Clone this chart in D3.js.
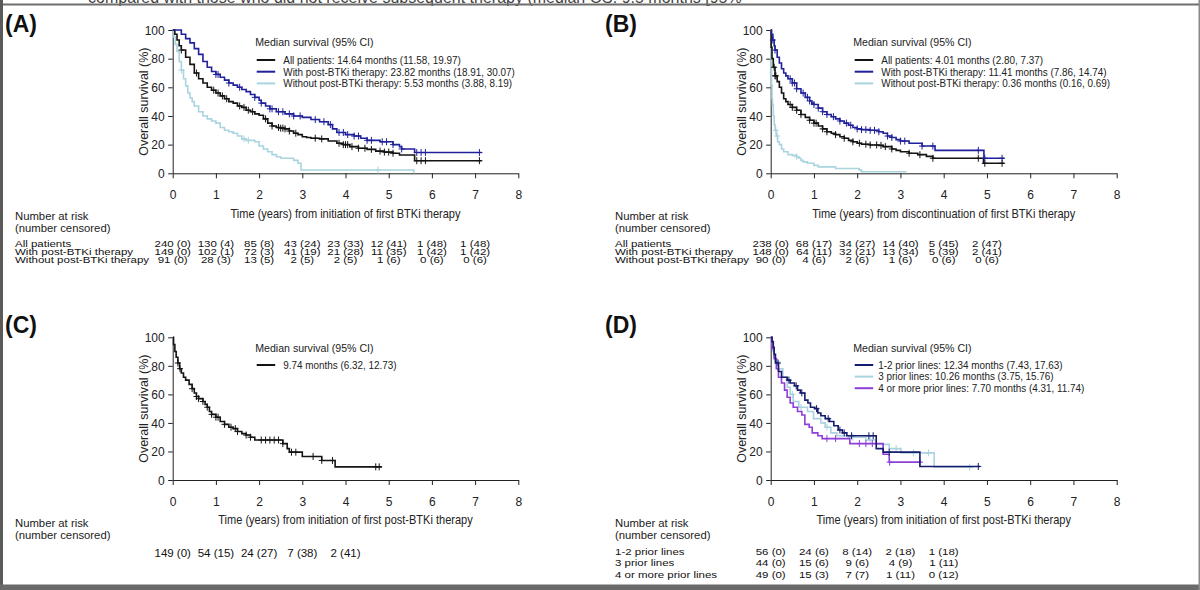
<!DOCTYPE html>
<html><head><meta charset="utf-8">
<script src="https://cdn.jsdelivr.net/npm/d3@7"></script>
<style>
body{margin:0;background:#fff;overflow:hidden}
text{font-family:"Liberation Sans",Arial,Helvetica,sans-serif}
</style>
</head><body>
<svg id="c" width="1200" height="590"></svg>
<script>
// ---------- shared ticks ----------
const xTicks = [0,1,2,3,4,5,6,7,8];
const yTicks = [0,20,40,60,80,100];

// ---------- Panel A: from initiation of first BTKi ----------
const A_all = [[0,100],[0.05,97],[0.1,93],[0.15,89],[0.2,86],[0.3,81],[0.4,76],[0.5,70],[0.6,66],[0.7,63],[0.8,60],[0.9,58],[1.0,56],[1.1,54],[1.2,52],[1.3,50],[1.4,49],[1.5,47],[1.6,46],[1.7,44],[1.8,43],[1.9,41.5],[2.0,40.5],[2.1,38],[2.2,35],[2.3,33],[2.4,32],[2.5,31.5],[2.6,31],[2.7,29.5],[2.8,28],[2.9,27],[3.0,25.5],[3.1,25],[3.2,24.5],[3.4,24],[3.6,22.5],[3.8,21],[3.95,20],[4.1,18.6],[4.3,17.5],[4.5,16.7],[4.7,15.5],[4.9,14.8],[5.1,14],[5.25,12.8],[5.6,8.8],[7.15,8.8]];
const A_all_cens = [0.2,0.55,0.95,1.05,1.15,1.25,1.55,1.65,1.75,1.85,2.15,2.3,2.45,2.5,2.55,2.6,2.7,2.85,3.3,3.45,3.85,3.95,4.0,4.05,4.15,4.3,4.45,4.6,4.8,4.9,5.0,5.1,5.65,5.75,5.85,7.1];
const A_with = [[0,100],[0.15,100],[0.2,97],[0.3,94],[0.4,91],[0.5,87],[0.6,83],[0.7,78],[0.8,74],[0.9,71],[1.0,69],[1.1,67],[1.2,65],[1.3,63],[1.4,61.5],[1.5,60],[1.6,58.5],[1.7,57],[1.8,55],[1.9,53],[2.0,51],[2.05,49],[2.15,47],[2.25,45],[2.4,43],[2.6,41.5],[2.8,40],[3.0,39],[3.2,37.5],[3.4,36],[3.6,34],[3.7,31],[3.8,28.5],[4.0,27],[4.2,26],[4.35,24.5],[4.5,23],[4.8,22],[5.1,20],[5.25,18.5],[5.3,17],[5.6,14.5],[7.15,14.5]];
const A_with_cens = [1.0,1.05,1.3,1.55,1.9,2.05,2.25,2.3,2.45,2.55,2.7,2.8,2.95,3.3,3.5,3.65,3.85,3.95,4.05,4.2,4.3,4.5,4.6,4.85,4.95,5.1,5.3,5.65,5.75,5.85,7.1];
const A_without = [[0,100],[0.03,95],[0.06,90],[0.1,85],[0.15,78],[0.2,72],[0.25,66],[0.3,61],[0.35,56],[0.4,52.5],[0.45,50],[0.5,47],[0.6,43],[0.7,40],[0.8,38],[0.9,36.5],[1.0,35],[1.1,32],[1.2,30],[1.3,29],[1.4,28],[1.5,26],[1.6,24],[1.7,23],[1.9,22],[2.0,19],[2.1,17],[2.2,15],[2.3,13],[2.4,11.5],[2.5,10.5],[2.8,9],[2.9,7],[2.97,2.3],[5.58,0]];
const A_without_cens = [0.2,1.65,1.75,4.75];
const A_legend = ["All patients: 14.64 months (11.58, 19.97)","With post-BTKi therapy: 23.82 months (18.91, 30.07)","Without post-BTKi therapy: 5.53 months (3.88, 8.19)"];
const A_rowLabels = ["All patients","With post-BTKi therapy","Without post-BTKi therapy"];
const A_risk_all = ["240 (0)","130 (4)","85 (8)","43 (24)","23 (33)","12 (41)","1 (48)","1 (48)"];
const A_risk_with = ["149 (0)","102 (1)","72 (3)","41 (19)","21 (28)","11 (35)","1 (42)","1 (42)"];
const A_risk_without = ["91 (0)","28 (3)","13 (5)","2 (5)","2 (5)","1 (6)","0 (6)","0 (6)"];
const A_xTitle = "Time (years) from initiation of first BTKi therapy";

// ---------- Panel B: from discontinuation of first BTKi ----------
const B_all = [[0,100],[0.01,88],[0.03,80],[0.06,74],[0.1,68],[0.15,64],[0.2,60],[0.25,56],[0.3,52],[0.35,50],[0.4,48],[0.5,46],[0.6,44],[0.7,41],[0.8,39],[0.9,37],[1.0,35],[1.1,33],[1.2,31],[1.3,29],[1.4,28],[1.5,27],[1.6,25.5],[1.7,24.5],[1.8,23],[1.9,22],[2.0,21],[2.1,20.3],[2.3,19.8],[2.5,19.5],[2.6,18.6],[2.8,17],[2.9,16],[3.0,15],[3.2,14],[3.4,13],[3.6,11.8],[3.75,10.5],[4.92,7],[5.4,7]];
const B_all_cens = [0.08,0.1,0.12,0.45,0.5,0.6,0.7,0.9,1.0,1.05,1.2,1.3,1.5,1.7,1.9,2.05,2.2,2.3,2.45,2.55,2.65,2.8,3.2,3.45,3.75,4.8,4.95,5.35];
const B_with = [[0,100],[0.02,97],[0.05,93],[0.08,89],[0.1,86],[0.15,81],[0.2,77],[0.25,73],[0.3,70],[0.35,68],[0.4,66],[0.5,63],[0.6,59],[0.7,56],[0.8,53],[0.9,50.5],[0.95,49],[1.0,48],[1.1,45.5],[1.2,43],[1.3,41],[1.4,39.5],[1.5,38],[1.6,36.5],[1.7,35],[1.8,33.5],[1.9,32],[2.0,31],[2.1,30.5],[2.3,30],[2.5,29],[2.6,28],[2.7,26],[2.8,25],[2.9,23.5],[3.0,22.5],[3.2,21],[3.5,19],[3.8,16],[4.93,10.5],[5.4,10.5]];
const B_with_cens = [0.05,0.1,0.45,0.5,0.55,0.6,0.75,0.85,0.9,1.0,1.1,1.2,1.3,1.45,1.6,1.75,1.85,2.0,2.1,2.2,2.3,2.4,2.5,2.7,2.8,3.0,3.1,3.5,3.75,4.8,4.95,5.35];
const B_without = [[0,100],[0.01,80],[0.02,62],[0.03,52],[0.04,48],[0.06,40],[0.08,34],[0.1,30],[0.13,26],[0.16,22],[0.2,20],[0.25,17],[0.3,15],[0.4,13],[0.5,12.5],[0.6,11.5],[0.65,10.5],[0.7,9],[0.75,8],[0.85,7],[1.0,5.5],[1.1,4.5],[1.5,3.4],[2.05,2.2],[2.1,1.1],[3.14,1.1]];
const B_without_cens = [0.12,0.15,0.6];
const B_legend = ["All patients: 4.01 months (2.80, 7.37)","With post-BTKi therapy: 11.41 months (7.86, 14.74)","Without post-BTKi therapy: 0.36 months (0.16, 0.69)"];
const B_risk_all = ["238 (0)","68 (17)","34 (27)","14 (40)","5 (45)","2 (47)"];
const B_risk_with = ["148 (0)","64 (11)","32 (21)","13 (34)","5 (39)","2 (41)"];
const B_risk_without = ["90 (0)","4 (6)","2 (6)","1 (6)","0 (6)","0 (6)"];
const B_xTitle = "Time (years) from discontinuation of first BTKi therapy";

// ---------- Panel C: from initiation of first post-BTKi ----------
const C_all = [[0,100],[0.02,95],[0.05,90],[0.08,86],[0.12,82],[0.16,78],[0.2,75],[0.25,72],[0.3,70],[0.38,67],[0.45,64],[0.5,61],[0.55,58.5],[0.6,57],[0.7,55],[0.75,53],[0.8,51],[0.85,48],[0.9,46],[1.0,44],[1.1,41],[1.2,39],[1.3,37],[1.4,36],[1.5,34],[1.6,32.5],[1.7,31.5],[1.8,30],[1.9,28],[2.55,25.5],[2.65,22],[2.7,19.5],[3.0,16.5],[3.45,13.7],[3.76,9.2],[4.84,9.2]];
const C_all_cens = [0.12,0.17,0.45,0.55,0.6,0.7,0.8,0.9,1.0,1.05,1.2,1.35,1.45,1.5,1.7,1.8,2.05,2.15,2.25,2.35,2.45,2.55,2.75,2.85,3.25,3.45,3.7,4.7,4.78];
const C_legend = ["9.74 months (6.32, 12.73)"];
const C_risk = ["149 (0)","54 (15)","24 (27)","7 (38)","2 (41)"];
const C_xTitle = "Time (years) from initiation of first post-BTKi therapy";

// ---------- Panel D: by prior lines ----------
const D_12 = [[0,100],[0.03,97],[0.06,93],[0.08,88],[0.11,82],[0.18,76],[0.25,72],[0.38,70],[0.45,68],[0.55,66],[0.62,63],[0.69,61],[0.79,56],[0.86,54],[0.92,51],[1.02,50],[1.09,47],[1.16,45],[1.26,43],[1.36,41],[1.46,38],[1.56,35],[1.66,33],[1.76,31],[2.44,22],[2.6,19.5],[3.45,9.5],[4.84,9.5]];
const D_12_cens = [0.17,0.42,0.59,0.72,1.06,1.33,1.6,1.7,1.87,2.27,2.37,2.74,4.8];
const D_3 = [[0,100],[0.03,95],[0.05,90],[0.08,86],[0.11,83],[0.18,78],[0.28,72],[0.38,65],[0.45,60],[0.52,55],[0.65,51],[0.85,48],[0.99,43],[1.16,40],[1.26,37],[1.39,33],[1.53,31],[1.8,30],[2.2,28],[2.44,25],[2.74,22],[3.01,19],[3.78,9],[4.68,9]];
const D_3_cens = [0.15,0.5,0.7,1.3,1.9,2.3,2.9,3.3,3.65,4.6];
const D_4 = [[0,100],[0.03,92],[0.08,85],[0.13,78],[0.18,72],[0.25,68],[0.32,63],[0.38,58],[0.45,54],[0.52,51],[0.62,48],[0.72,45.5],[0.79,39],[0.89,37],[0.96,33],[1.09,31],[1.19,29],[1.83,25.5],[2.6,18],[2.74,12.5],[3.48,12.5]];
const D_4_cens = [1.3,1.5,2.05,2.2,2.35,2.75,3.45];
const D_legend = ["1-2 prior lines: 12.34 months (7.43, 17.63)","3 prior lines: 10.26 months (3.75, 15.76)","4 or more prior lines: 7.70 months (4.31, 11.74)"];
const D_rowLabels = ["1-2 prior lines","3 prior lines","4 or more prior lines"];
const D_risk_12 = ["56 (0)","24 (6)","8 (14)","2 (18)","1 (18)"];
const D_risk_3 = ["44 (0)","15 (6)","9 (6)","4 (9)","1 (11)"];
const D_risk_4 = ["49 (0)","15 (3)","7 (7)","1 (11)","0 (12)"];
const D_xTitle = C_xTitle;

const topNote = "compared with those who did not receive subsequent therapy (median OS: 9.5 months [95%";

// ---------- colours ----------
const cBlack = "#141414", cBlue = "#20209a", cLight = "#a9d4e0";
const cNavy = "#161c6c", cLight2 = "#abd2e0", cPurple = "#8e3fd8";

const svg = d3.select("#c");
svg.append("rect").attr("width",1200).attr("height",590).attr("fill","#fff");

function sAt(steps, t){
  let s = steps[0][1];
  for (const p of steps){ if (p[0] <= t) s = p[1]; else break; }
  return s;
}

function panel(p){
  const x = d3.scaleLinear().domain([0,8]).range([p.x0, p.x1]);
  const y = d3.scaleLinear().domain([0,100]).range([p.yb, p.yt]);
  const g = svg.append("g");

  // panel letter
  g.append("text").attr("x", p.lx).attr("y", p.ly).attr("font-size", 23).attr("font-weight","bold")
    .attr("fill","#111").text(p.letter);

  // axes
  const xa = g.append("g").attr("transform",`translate(0,${p.yb})`)
    .call(d3.axisBottom(x).tickValues(xTicks).tickSize(5).tickSizeOuter(0).tickFormat(d3.format("d")));
  xa.selectAll("text").attr("y", 21.5).attr("dy","0.35em").attr("font-size",12).attr("fill","#222")
    .style("font-family",'"Liberation Sans",Arial,sans-serif');
  const ya = g.append("g").attr("transform",`translate(${p.x0},0)`)
    .call(d3.axisLeft(y).tickValues(yTicks).tickSize(4.5).tickSizeOuter(0));
  ya.selectAll("text").attr("x", -8).attr("dy","0.35em").attr("font-size",12).attr("fill","#222")
    .style("font-family",'"Liberation Sans",Arial,sans-serif');
  g.selectAll(".domain, .tick line").attr("stroke","#222").attr("stroke-width",1);

  // axis titles
  g.append("text").attr("transform",`translate(${p.x0-29},${(p.yt+p.yb)/2}) rotate(-90)`)
    .attr("text-anchor","middle").attr("dy","0.35em").attr("font-size",12.5).attr("fill","#222")
    .text("Overall survival (%)");
  g.append("text").attr("transform",`translate(${(p.x0+p.x1)/2},${p.yb+40}) scale(0.92,1)`).attr("dy","0.35em")
    .attr("text-anchor","middle").attr("font-size",12).attr("fill","#222").text(p.xTitle);

  // curves
  const line = d3.line().x(d=>x(d[0])).y(d=>y(d[1])).curve(d3.curveStepAfter);
  p.series.forEach(s=>{
    g.append("path").datum(s.steps).attr("d",line).attr("fill","none")
      .attr("stroke",s.color).attr("stroke-width",1.6);
    g.append("g").selectAll("path").data(s.cens).join("path")
      .attr("d", t=>{const cx=x(t), cy=y(sAt(s.steps,t)); return `M${cx-3},${cy}H${cx+3}M${cx},${cy-3.5}V${cy+3.5}`;})
      .attr("stroke",s.color).attr("stroke-width",1).attr("fill","none");
  });

  // legend
  g.append("text").attr("x",p.x0+82.5).attr("y",p.yt+p.legHead).attr("dy","0.35em")
    .attr("font-size",10.6).attr("fill","#222").text("Median survival (95% CI)");
  p.legend.forEach((lab,i)=>{
    const yy = p.yt + p.legRow0 + i*p.legStep;
    g.append("line").attr("x1",p.x0+84).attr("x2",p.x0+102.5).attr("y1",yy).attr("y2",yy)
      .attr("stroke",p.legColors[i]).attr("stroke-width",2);
    g.append("text").attr("transform",`translate(${p.x0+p.legTextOff},${yy}) scale(0.9,1)`).attr("dy","0.35em")
      .attr("font-size",11).attr("fill","#222").text(lab);
  });

  // risk table
  g.append("text").attr("x",p.tx).attr("y",p.yb+43).attr("dy","0.35em").attr("font-size",11.3)
    .attr("fill","#222").text("Number at risk");
  g.append("text").attr("x",p.tx).attr("y",p.yb+55).attr("dy","0.35em").attr("font-size",11.3)
    .attr("fill","#222").text("(number censored)");
  p.risk.forEach((r,i)=>{
    const yy = p.riskY0 + i*p.riskStep;
    if (r.label) g.append("text").attr("transform",`translate(${p.tx},${yy}) scale(1,${p.riskSy})`)
      .attr("dy","0.35em").attr("font-size",11.5).attr("fill","#111").text(r.label);
    g.append("g").selectAll("text").data(r.values).join("text")
      .attr("transform",(d,j)=>`translate(${x(j)},${yy}) scale(1,${p.riskSy})`).attr("dy","0.35em")
      .attr("text-anchor","middle").attr("font-size",11.5).attr("fill","#111").text(d=>d);
  });
}

panel({letter:"(A)", lx:5, ly:32, x0:172.7, x1:518.3, yt:30, yb:173.3, xTitle:A_xTitle,
  legend:A_legend, legColors:[cBlack,cBlue,cLight], legHead:12, legRow0:30, legStep:11.7, legTextOff:110.6,
  series:[{steps:A_without,cens:A_without_cens,color:cLight},{steps:A_all,cens:A_all_cens,color:cBlack},{steps:A_with,cens:A_with_cens,color:cBlue}],
  tx:15, riskY0:243.5, riskStep:8.2, riskSy:0.78,
  risk:[{label:A_rowLabels[0],values:A_risk_all},{label:A_rowLabels[1],values:A_risk_with},{label:A_rowLabels[2],values:A_risk_without}]});

panel({letter:"(B)", lx:605, ly:32, x0:770.7, x1:1116.7, yt:30, yb:173.3, xTitle:B_xTitle,
  legend:B_legend, legColors:[cBlack,cBlue,cLight], legHead:12, legRow0:30, legStep:11.7, legTextOff:110.6,
  series:[{steps:B_without,cens:B_without_cens,color:cLight},{steps:B_all,cens:B_all_cens,color:cBlack},{steps:B_with,cens:B_with_cens,color:cBlue}],
  tx:615, riskY0:243.5, riskStep:8.2, riskSy:0.78,
  risk:[{label:A_rowLabels[0],values:B_risk_all},{label:A_rowLabels[1],values:B_risk_with},{label:A_rowLabels[2],values:B_risk_without}]});

panel({letter:"(C)", lx:5, ly:333, x0:172.7, x1:518.3, yt:337.3, yb:480, xTitle:C_xTitle,
  legend:C_legend, legColors:[cBlack], legHead:10.5, legRow0:27.7, legStep:11.7, legTextOff:110.6,
  series:[{steps:C_all,cens:C_all_cens,color:cBlack}],
  tx:15, riskY0:553, riskStep:9, riskSy:1,
  risk:[{label:null,values:C_risk}]});

panel({letter:"(D)", lx:605, ly:333, x0:770.7, x1:1116.7, yt:337.3, yb:480, xTitle:D_xTitle,
  legend:D_legend, legColors:[cNavy,cLight2,cPurple], legHead:10.5, legRow0:27.7, legStep:11.6, legTextOff:107.6,
  series:[{steps:D_3,cens:D_3_cens,color:cLight2},{steps:D_4,cens:D_4_cens,color:cPurple},{steps:D_12,cens:D_12_cens,color:cNavy}],
  tx:615, riskY0:551.5, riskStep:11.3, riskSy:0.85,
  risk:[{label:D_rowLabels[0],values:D_risk_12},{label:D_rowLabels[1],values:D_risk_3},{label:D_rowLabels[2],values:D_risk_4}]});

// frame / page chrome
svg.append("text").attr("x",88).attr("y",3).attr("font-size",16).attr("fill","#444").text(topNote);
svg.append("rect").attr("x",0).attr("y",3.5).attr("width",1200).attr("height",2).attr("fill","#6e6e6e");
svg.append("rect").attr("x",0).attr("y",0).attr("width",3).attr("height",590).attr("fill","#5a5a5a");
svg.append("rect").attr("x",0).attr("y",584.5).attr("width",1200).attr("height",6).attr("fill","#6a6a6a");
svg.append("rect").attr("x",1198.5).attr("y",0).attr("width",1.5).attr("height",590).attr("fill","#8a8a8a");
</script>
</body></html>
